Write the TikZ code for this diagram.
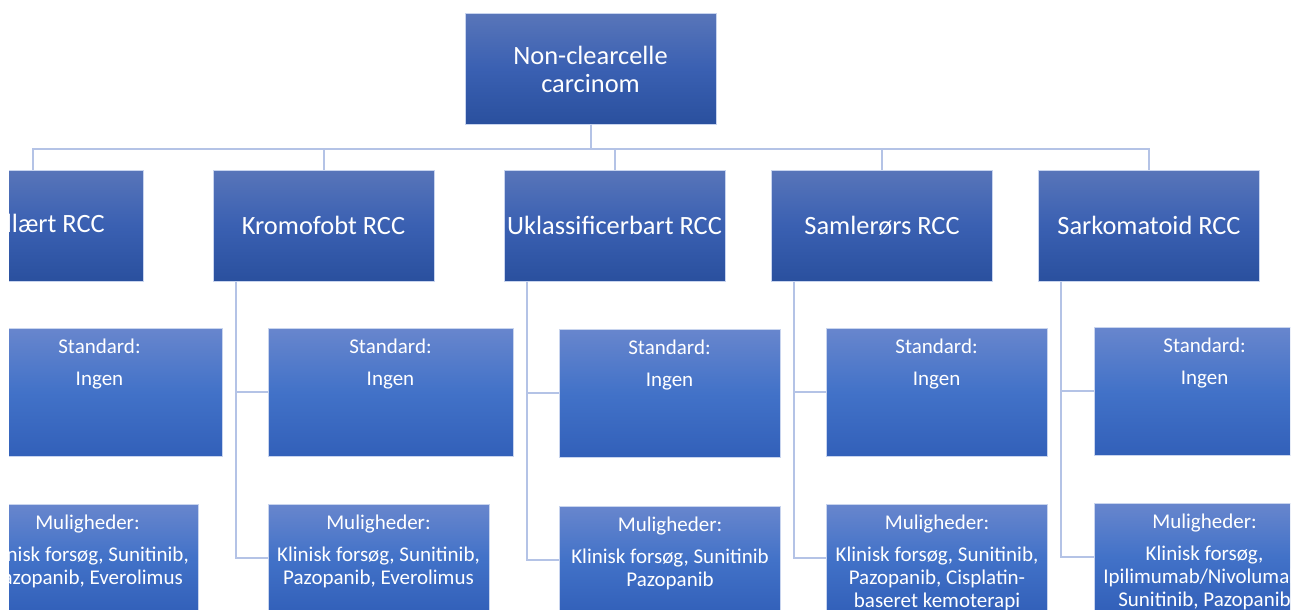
\documentclass[tikz,border=0pt]{standalone}
\usepackage{fontspec}
\setmainfont{Carlito}
\definecolor{boxtop}{RGB}{88,117,185}
\definecolor{boxmid}{RGB}{58,96,178}
\definecolor{boxbot}{RGB}{42,80,158}
\definecolor{subtop}{RGB}{104,134,205}
\definecolor{submid}{RGB}{66,114,200}
\definecolor{subbot}{RGB}{50,96,185}
\definecolor{rim}{RGB}{200,212,238}
\definecolor{wirecol}{RGB}{180,195,230}
\begin{document}
\begin{tikzpicture}[x=1pt,y=-1pt,
	box/.style={draw=rim,line width=1pt,top color=boxtop,bottom color=boxbot,middle color=boxmid,
		minimum width=221pt,minimum height=111pt,inner sep=0pt,text=white,align=center,
		font=\fontsize{26.4}{28}\selectfont},
	sub/.style={draw=rim,line width=1pt,top color=subtop,bottom color=subbot,middle color=submid,
		minimum width=221pt,inner sep=0pt},
	std/.style={sub,minimum height=128pt},
	opt/.style={sub,minimum height=108pt},
	txt/.style={text=white,align=center,anchor=north,inner sep=0pt,font=\fontsize{21}{23}\selectfont},
	link/.style={draw=wirecol,line width=2pt}]
		\useasboundingbox (0,0) rectangle (1301,610);
		\clip (9,0) rectangle (1290,610);
		\node[box,minimum width=251pt,minimum height=110pt] (nc) at (590.5,69) {Non-clearcelle\\carcinom};
		\node[box] (k1) at (32.5,225.5) {Papillært RCC};
		\node[box] (k2) at (323.5,225.5) {Kromofobt RCC};
		\node[box] (k3) at (614.5,225.5) {Uklassificerbart RCC};
		\node[box] (k4) at (882,225.5) {Samlerørs RCC};
		\node[box] (k5) at (1149,225.5) {Sarkomatoid RCC};
		\node[std,minimum width=245pt] (s1) at (99.5,392) {};
		\node[std,minimum width=245pt] (s2) at (390.5,392) {};
		\node[std] (s3) at (669.5,393) {};
		\node[std] (s4) at (936.5,392) {};
		\node[std] (s5) at (1204.5,391) {};
		\node[opt] (m1) at (87.5,558) {};
		\node[opt] (m2) at (378.5,558) {};
		\node[opt] (m3) at (670,560) {};
		\node[opt] (m4) at (937,558) {};
		\node[opt] (m5) at (1204.5,557) {};
		\foreach \c in {1,...,5}
		\node[txt] at ([yshift=-11pt]s\c.north) {Standard:\\[9pt]Ingen};
		\node[txt] at ([yshift=-11pt]m1.north) {Muligheder:\\[9pt]Klinisk forsøg, Sunitinib,\\Pazopanib, Everolimus};
		\node[txt] at ([yshift=-11pt]m2.north) {Muligheder:\\[9pt]Klinisk forsøg, Sunitinib,\\Pazopanib, Everolimus};
		\node[txt] at ([yshift=-11pt]m3.north) {Muligheder:\\[9pt]Klinisk forsøg, Sunitinib\\Pazopanib};
		\node[txt] at ([yshift=-11pt]m4.north) {Muligheder:\\[9pt]Klinisk forsøg, Sunitinib,\\Pazopanib, Cisplatin-\\baseret kemoterapi};
		\node[txt] at ([yshift=-11pt]m5.north) {Muligheder:\\[9pt]Klinisk forsøg,\\Ipilimumab/Nivolumab,\\Sunitinib, Pazopanib};
		\foreach \c in {1,...,5}
		\draw[link] (nc.south) -- ++(0,24) -| (k\c.north);
		\foreach \c in {1,...,5} {
			\draw[link] ([xshift=23pt]k\c.south west) |- (s\c.west);
			\draw[link] ([xshift=23pt]k\c.south west) |- (m\c.west);
		}
		\end{tikzpicture}
\end{document}
